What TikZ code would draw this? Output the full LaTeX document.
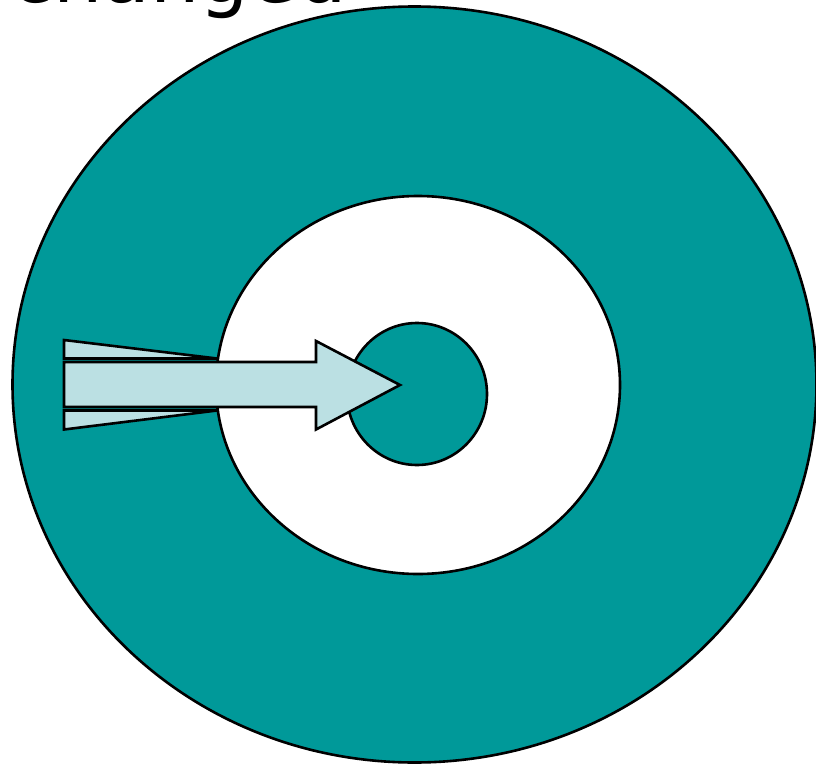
\documentclass[tikz,border=0pt]{standalone}
\usepackage{fontspec}
\newfontfamily\labelfont{DejaVu Sans}
\definecolor{teal1}{RGB}{0,153,153}
\definecolor{arrowfill}{RGB}{187,224,227}
\begin{document}
\begin{tikzpicture}[x=1pt,y=-1pt,
  ring/.style={draw=black,line width=2.6pt},
  arrowpart/.style={draw=black,line width=2.6pt,fill=arrowfill,line join=miter}]
\useasboundingbox (0,0) rectangle (816,765);
\begin{scope}
\clip (0,0) rectangle (816,765);
\node[anchor=base west,inner sep=0pt,font=\labelfont\fontsize{78}{94}\selectfont] (title) at (10,3) {changed};
\draw[ring,fill=teal1] (414.5,384.5) ellipse [x radius=402, y radius=378];
\draw[ring,fill=white] (418,385) ellipse [x radius=202, y radius=189];
\draw[ring,fill=teal1] (417,394) ellipse [x radius=70, y radius=71];
\draw[arrowpart] (64,340) -- (217,358.5) -- (64,358.5) -- cycle;
\draw[arrowpart] (64,429.5) -- (217,410.5) -- (64,410.5) -- cycle;
\draw[arrowpart] (64,362) -- (316,362) -- (316,341) -- (400,385) -- (316,429.5) -- (316,407) -- (64,407) -- cycle;
\end{scope}
\end{tikzpicture}
\end{document}
